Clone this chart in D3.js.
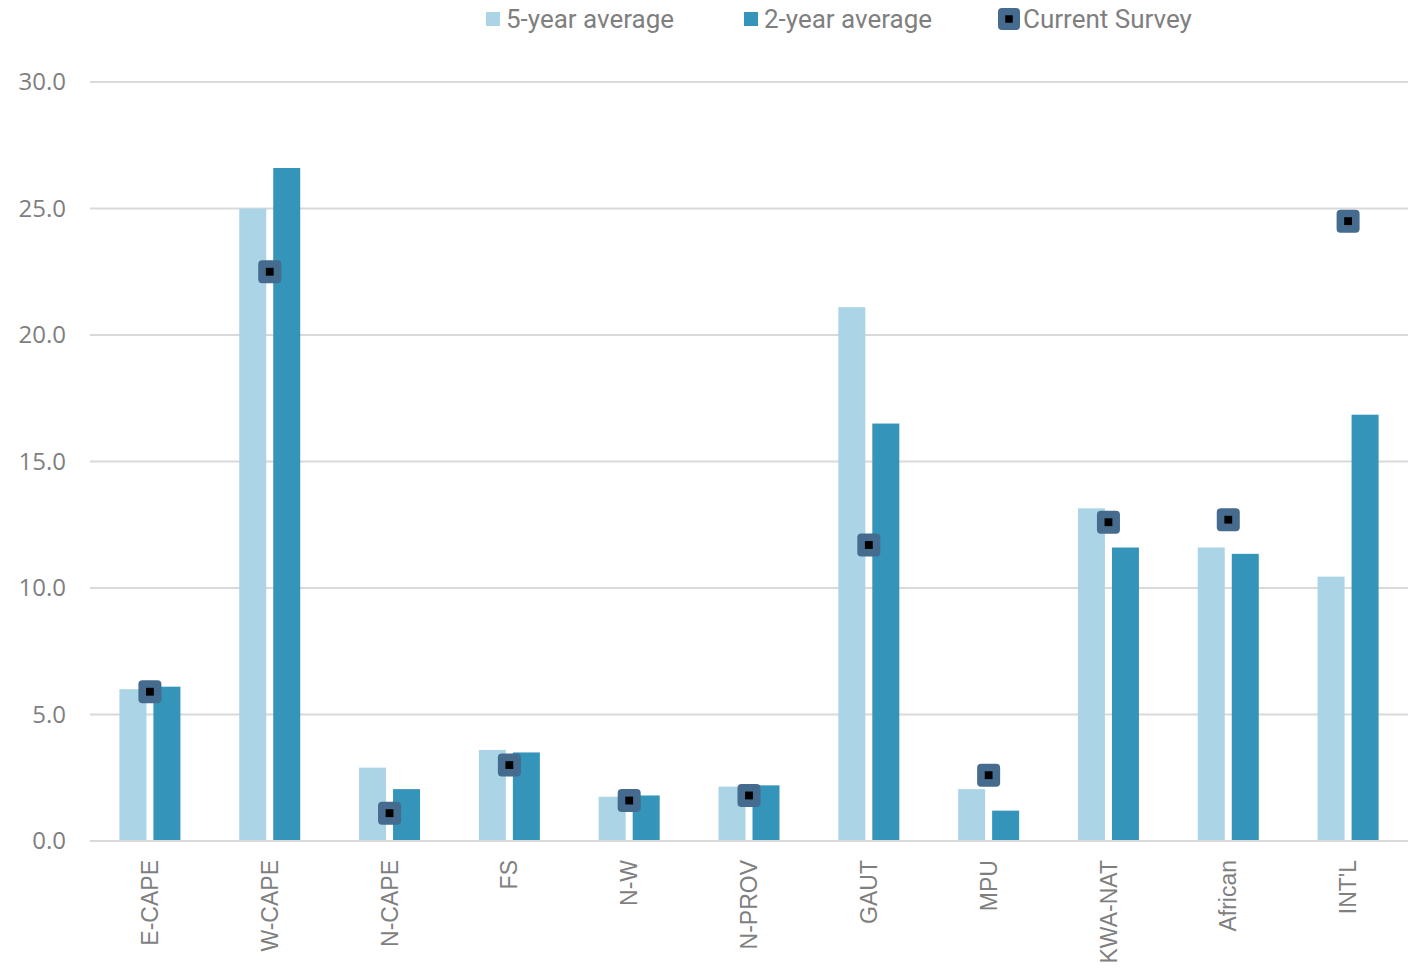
<!DOCTYPE html>
<html>
<head>
<meta charset="utf-8">
<script src="https://cdn.jsdelivr.net/npm/d3@7"></script>
<style>
  html, body { margin: 0; padding: 0; background: #fff; }
  svg { display: block; }
</style>
</head>
<body>
<div id="chart"></div>
<script>
// Regional share of survey respondents (%)
const categories = ["E-CAPE", "W-CAPE", "N-CAPE", "FS", "N-W", "N-PROV", "GAUT", "MPU", "KWA-NAT", "African", "INT'L"];
const fiveYear   = [6.0, 25.0, 2.9, 3.6, 1.75, 2.15, 21.1, 2.05, 13.15, 11.6, 10.45];
const twoYear    = [6.1, 26.6, 2.05, 3.5, 1.8, 2.2, 16.5, 1.2, 11.6, 11.35, 16.85];
const current    = [5.9, 22.5, 1.1, 3.0, 1.6, 1.8, 11.7, 2.6, 12.6, 12.7, 24.5];
const yTicks     = [0, 5, 10, 15, 20, 25, 30];
const seriesNames = ["5-year average", "2-year average", "Current Survey"];

const W = 1414, H = 969;
const margin = { left: 90, right: 6, top: 82, bottom: 128 };
const c5 = "#abd5e6", c2 = "#3494ba", cMark = "#456b8e";
const grey = "#7f7f7f";

const svg = d3.select("#chart").append("svg")
  .attr("width", W).attr("height", H);

const x = d3.scaleBand()
  .domain(categories)
  .range([margin.left, W - margin.right]);

const y = d3.scaleLinear()
  .domain([0, 30])
  .range([H - margin.bottom, margin.top]);

// Horizontal gridlines
svg.append("g")
  .selectAll("line")
  .data(yTicks)
  .join("line")
  .attr("x1", margin.left).attr("x2", W - margin.right)
  .attr("y1", d => y(d)).attr("y2", d => y(d))
  .attr("stroke", "#d9d9d9").attr("stroke-width", 2);

// Y axis labels
const yAxis = svg.append("g")
  .attr("transform", `translate(${margin.left - 24},0)`)
  .call(d3.axisLeft(y).tickValues(yTicks).tickFormat(d3.format(".1f")).tickSize(0).tickPadding(0));
yAxis.select(".domain").remove();
yAxis.selectAll("text")
  .attr("fill", grey)
  .attr("font-family", "'Open Sans', 'Noto Sans', sans-serif")
  .attr("font-size", 24);

// Bars
const barW = 27, gap = 7;
const groups = svg.append("g");
const bars = [
  { vals: fiveYear, color: c5, offset: -gap / 2 - barW },
  { vals: twoYear,  color: c2, offset: gap / 2 }
];
bars.forEach(s => {
  groups.append("g")
    .selectAll("rect")
    .data(categories)
    .join("rect")
    .attr("x", (d) => x(d) + x.bandwidth() / 2 + s.offset)
    .attr("y", (d, i) => y(s.vals[i]))
    .attr("width", barW)
    .attr("height", (d, i) => y(0) - y(s.vals[i]))
    .attr("fill", s.color);
});

// Baseline
svg.append("line")
  .attr("x1", margin.left).attr("x2", W - margin.right)
  .attr("y1", y(0)).attr("y2", y(0))
  .attr("stroke", "#d9d9d9").attr("stroke-width", 2);

// Current survey markers
function marker(g, cx, cy, size) {
  g.append("rect")
    .attr("x", cx - size / 2).attr("y", cy - size / 2)
    .attr("width", size).attr("height", size)
    .attr("rx", 4).attr("ry", 4)
    .attr("fill", cMark);
  const inner = size * 0.34;
  g.append("rect")
    .attr("x", cx - inner / 2).attr("y", cy - inner / 2)
    .attr("width", inner).attr("height", inner)
    .attr("fill", "#000");
}
const markG = svg.append("g");
categories.forEach((c, i) => {
  marker(markG, x(c) + x.bandwidth() / 2, y(current[i]), 23);
});

// Category labels (rotated)
const xAxis = svg.append("g")
  .attr("transform", `translate(0,${y(0)})`)
  .call(d3.axisBottom(x).tickSize(0).tickPadding(0));
xAxis.select(".domain").remove();
xAxis.selectAll("text")
  .attr("fill", grey)
  .attr("font-family", "'Liberation Sans', Arial, sans-serif")
  .attr("font-size", 23)
  .attr("text-anchor", "end")
  .attr("dy", "0.35em")
  .attr("transform", "translate(0,19) rotate(-90)")
  .attr("x", 0).attr("y", 0);

// Legend
const legend = svg.append("g")
  .attr("font-family", "'Liberation Sans Narrow', 'Roboto', sans-serif")
  .attr("font-size", 26)
  .attr("fill", grey);
const lx = [486, 744, 998];
const ly = 19;
legend.append("rect").attr("x", lx[0]).attr("y", ly - 7).attr("width", 14).attr("height", 14).attr("fill", c5);
legend.append("rect").attr("x", lx[1]).attr("y", ly - 7).attr("width", 14).attr("height", 14).attr("fill", c2);
marker(legend, lx[2] + 11, ly, 22);
const textX = [lx[0] + 20, lx[1] + 20, lx[2] + 25];
seriesNames.forEach((n, i) => {
  legend.append("text")
    .attr("x", textX[i]).attr("y", ly)
    .attr("dy", "0.35em")
    .text(n);
});
</script>
</body>
</html>
